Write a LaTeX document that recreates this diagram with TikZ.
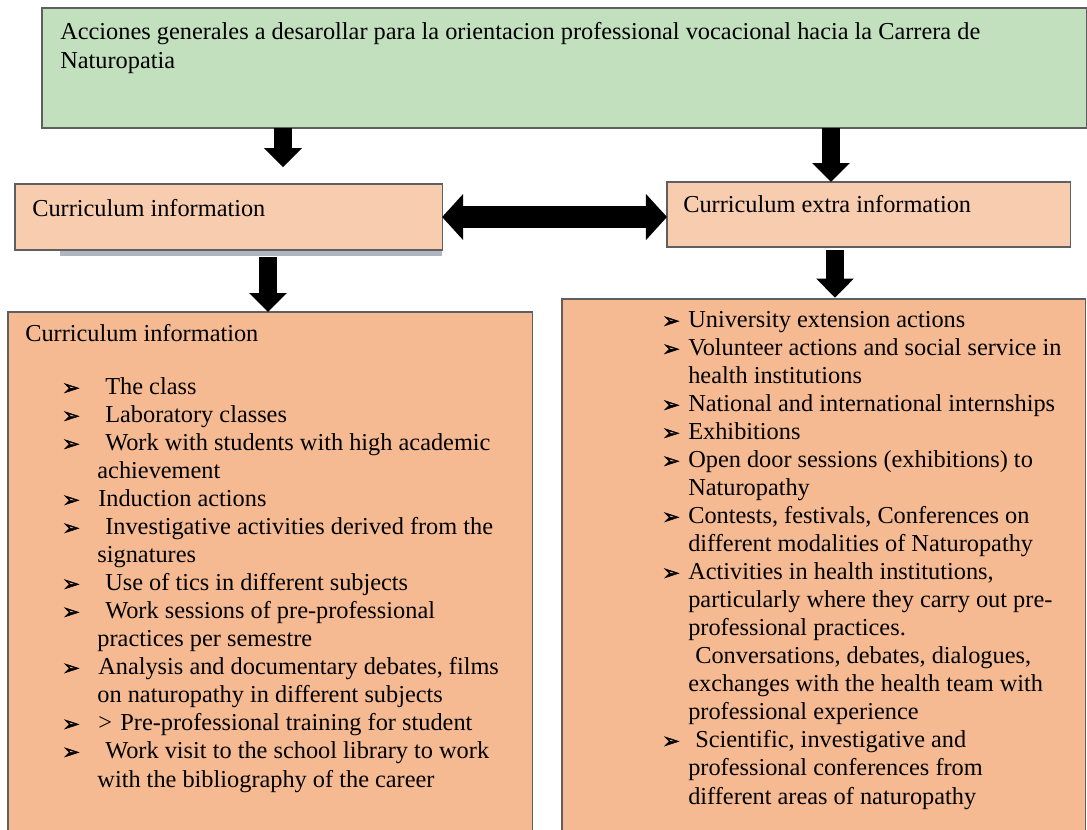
\documentclass[tikz,border=0pt]{standalone}
\usepackage{fontspec}
\setmainfont{Liberation Serif}
\newfontfamily\dingfont[BoldFeatures={FakeBold=2}]{DejaVu Sans}
\usepackage{tikz}
\usetikzlibrary{arrows.meta}
\definecolor{topgreen}{RGB}{195,224,190}
\definecolor{midpeach}{RGB}{248,204,175}
\definecolor{lowpeach}{RGB}{245,186,145}
\definecolor{edgegrey}{RGB}{95,95,95}
\definecolor{shadowgrey}{RGB}{175,182,192}
\tikzstyle{box}=[draw=edgegrey,line width=0.8pt,anchor=north west,inner sep=0,outer sep=0]
\tikzstyle{txt}=[anchor=base west,inner sep=0,align=left,font=\fontsize{17.3}{19.92}\selectfont]
\tikzstyle{downarrow}=[line width=12.8pt,-{Triangle[width=26pt,length=13.5pt]}]
\tikzstyle{botharrow}=[line width=15.6pt,{Triangle[width=32pt,length=15pt]}-{Triangle[width=32pt,length=15pt]}]
\newcommand{\ib}[1]{\makebox[#1][l]{\dingfont\bfseries\fontsize{15}{15}\selectfont ➢}}

\begin{document}
\begin{tikzpicture}[x=0.025cm,y=-0.025cm]
	\useasboundingbox (0,0) rectangle (1087,830);
	\clip (0,0) rectangle (1087,830);

	% boxes
	\fill[shadowgrey] (60,249) rectangle (442,256);
	\node[box,fill=topgreen,minimum width=26.1cm,minimum height=3cm] (top) at (42,8) {};
	\node[box,fill=midpeach,minimum width=10.675cm,minimum height=1.65cm] (lmid) at (15,184) {};
	\node[box,fill=midpeach,minimum width=10.075cm,minimum height=1.625cm] (rmid) at (667,182) {};
	\node[box,fill=lowpeach,minimum width=13.1cm,minimum height=13.5cm] (llow) at (8,312) {};
	\node[box,fill=lowpeach,minimum width=13.075cm,minimum height=13.5cm] (rlow) at (562,299) {};

	% texts (multi-line nodes sit on their last baseline)
	\node[txt] (toptxt) at (60,68) {Acciones generales a desarollar para la orientacion professional vocacional hacia la Carrera de\\Naturopatia};
	\node[txt] (lmidtxt) at (32,216) {Curriculum information};
	\node[txt] (rmidtxt) at (683,212) {Curriculum extra information};
	\node[txt] (llowtxt) at (25,341) {Curriculum information};

	\node[txt] (llist) at (62,787) {%
		\ib{25.6pt}\hspace{5pt}The class\\
		\ib{25.6pt}\hspace{5pt}Laboratory classes\\
		\ib{25.6pt}\hspace{5pt}Work with students with high academic\\
		\hspace*{25pt}achievement\\
		\ib{25.6pt}Induction actions\\
		\ib{25.6pt}\hspace{5pt}Investigative activities derived from the\\
		\hspace*{25pt}signatures\\
		\ib{25.6pt}\hspace{5pt}Use of tics in different subjects\\
		\ib{25.6pt}\hspace{5pt}Work sessions of pre-professional\\
		\hspace*{25pt}practices per semestre\\
		\ib{25.6pt}Analysis and documentary debates, films\\
		\hspace*{25pt}on naturopathy in different subjects\\
		\ib{25.6pt}>\hspace{6pt}Pre-professional training for student\\
		\ib{25.6pt}\hspace{5pt}Work visit to the school library to work\\
		\hspace*{25pt}with the bibliography of the career};

	\node[txt] (rlist) at (662,804) {%
		\ib{18.5pt}University extension actions\\
		\ib{18.5pt}Volunteer actions and social service in\\
		\hspace*{18.5pt}health institutions\\
		\ib{18.5pt}National and international internships\\
		\ib{18.5pt}Exhibitions\\
		\ib{18.5pt}Open door sessions (exhibitions) to\\
		\hspace*{18.5pt}Naturopathy\\
		\ib{18.5pt}Contests, festivals, Conferences on\\
		\hspace*{18.5pt}different modalities of Naturopathy\\
		\ib{18.5pt}Activities in health institutions,\\
		\hspace*{18.5pt}particularly where they carry out pre-\\
		\hspace*{18.5pt}professional practices.\\
		\hspace*{18.5pt}\hspace{5pt}Conversations, debates, dialogues,\\
		\hspace*{18.5pt}exchanges with the health team with\\
		\hspace*{18.5pt}professional experience\\
		\ib{18.5pt}\hspace{5pt}Scientific, investigative and\\
		\hspace*{18.5pt}professional conferences from\\
		\hspace*{18.5pt}different areas of naturopathy};

	% arrows
	\coordinate (a1) at (283,0);
	\coordinate (a2) at (831,0);
	\coordinate (a3) at (268,0);
	\coordinate (a4) at (835,0);

	\draw[downarrow,shorten >=12pt] (top.south -| a1) -- (a1 |- lmid.north);
	\draw[downarrow] (top.south -| a2) -- (a2 |- rmid.north);
	\draw[downarrow,shorten <=5pt] (lmid.south -| a3) -- (a3 |- llow.north);
	\draw[downarrow,shorten <=2pt,shorten >=1pt] (rmid.south -| a4) -- (a4 |- rlow.north);
	\draw[botharrow] (lmid.east) -- (lmid.east -| rmid.west);

\end{tikzpicture}
\end{document}
